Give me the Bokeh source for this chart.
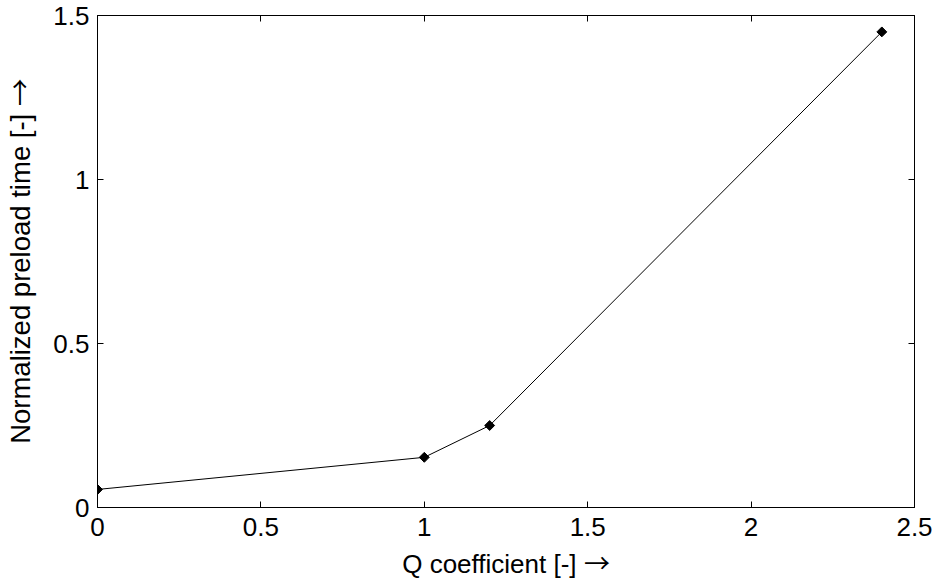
from bokeh.plotting import figure
from bokeh.models import LinearAxis, Range1d, FixedTicker, CustomJSTickFormatter
from bokeh.embed import file_html
from bokeh.resources import INLINE

q_coefficient = [0.0, 1.0, 1.2, 2.4]
preload_time = [0.055, 0.153, 0.25, 1.45]

x_ticks = [0, 0.5, 1, 1.5, 2, 2.5]
y_ticks = [0, 0.5, 1, 1.5]

FONT = "Liberation Sans"
LABEL_FONT = "ArrowFont, 'Liberation Sans'"
FS = "26px"

p = figure(width=934, height=584, output_backend="svg", toolbar_location=None,
           x_range=Range1d(0, 2.5), y_range=Range1d(0, 1.5),
           min_border_left=97, min_border_right=20, min_border_top=15, min_border_bottom=77,
           background_fill_color="white", border_fill_color="white")
p.xgrid.visible = False
p.ygrid.visible = False
p.outline_line_color = "black"
p.outline_line_width = 1

def style_axis(ax, show_labels=True):
    ax.axis_line_color = "black"
    ax.major_tick_line_color = "black"
    ax.major_tick_in = 6
    ax.major_tick_out = 0
    ax.minor_tick_line_color = None
    ax.major_label_text_font = FONT
    ax.major_label_text_color = "black"
    ax.axis_label_text_font = LABEL_FONT
    ax.axis_label_text_font_style = "normal"
    ax.axis_label_text_color = "black"
    ax.axis_label_text_font_size = FS
    if show_labels:
        ax.major_label_text_font_size = FS
    else:
        ax.formatter = CustomJSTickFormatter(code="return ''")
        ax.major_label_text_font_size = "0px"
        ax.major_label_standoff = 0

p.xaxis.ticker = FixedTicker(ticks=x_ticks)
p.yaxis.ticker = FixedTicker(ticks=y_ticks)
style_axis(p.xaxis[0])
style_axis(p.yaxis[0])
p.xaxis.axis_label = "Q coefficient [-] \u2192"
p.yaxis.axis_label = "Normalized preload time [-] \u2192"
p.yaxis.axis_label_text_font_size = "27.5px"
p.xaxis.major_label_standoff = 10
p.xaxis.axis_label_standoff = 10
p.yaxis.major_label_standoff = 8
p.yaxis.axis_label_standoff = 14

ax_top = LinearAxis(ticker=FixedTicker(ticks=x_ticks))
style_axis(ax_top, False)
p.add_layout(ax_top, "above")
ax_right = LinearAxis(ticker=FixedTicker(ticks=y_ticks))
style_axis(ax_right, False)
p.add_layout(ax_right, "right")

p.line(q_coefficient, preload_time, line_color="black", line_width=1)
p.scatter(q_coefficient, preload_time, marker="square", size=7, angle=0.785398,
          fill_color="black", line_color="black")

css = ("<style>@font-face{font-family:'ArrowFont';"
       "src:local('Noto Sans CJK JP Regular'),local('NotoSansCJKjp-Regular'),"
       "local('Noto Sans CJK JP'),local('DejaVu Sans');"
       "unicode-range:U+2190-2193;}</style>")
html = file_html(p, INLINE)
html = html.replace("</head>", css + "</head>", 1)
open("out.html", "w").write(html)
